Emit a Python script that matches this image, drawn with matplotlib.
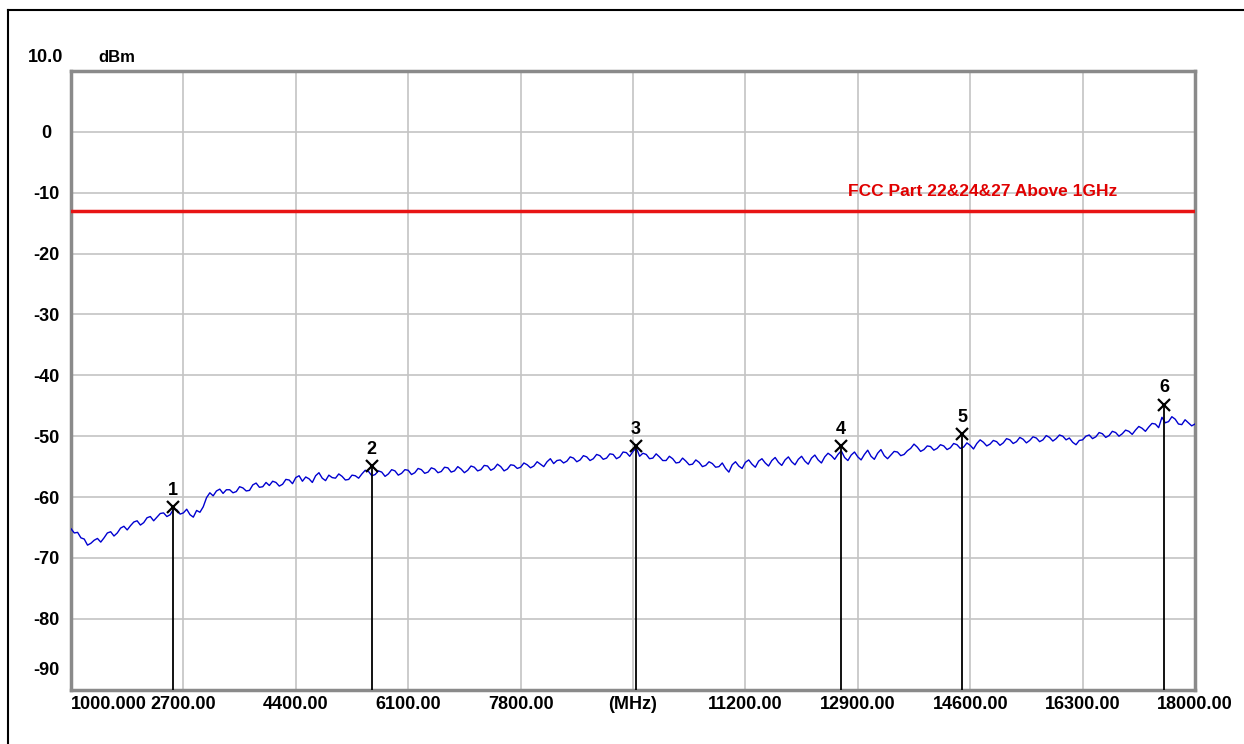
import matplotlib
matplotlib.use("Agg")
import matplotlib.pyplot as plt
from matplotlib.lines import Line2D

# spectrum trace, 1000..18000 MHz in 50 MHz steps
start_mhz = 1000
step_mhz = 50
trace_dbm = [
    -65.2, -65.9, -65.8, -66.7, -66.9, -67.9, -67.6, -67.1, -66.8, -67.4,
    -66.7, -65.9, -65.7, -66.4, -65.9, -65.1, -64.8, -65.4, -64.7, -64.1,
    -63.9, -64.6, -64.2, -63.4, -63.2, -63.9, -63.3, -62.7, -62.6, -63.2,
    -62.9, -62.0, -62.1, -62.8, -62.6, -62.0, -62.9, -63.3, -62.2, -62.5,
    -61.6, -60.1, -59.3, -59.8, -59.0, -58.7, -59.4, -58.8, -58.8, -59.3,
    -59.1, -58.3, -58.5, -59.0, -58.9, -58.0, -57.7, -58.4, -58.3, -57.6,
    -58.1, -57.4, -57.6, -58.2, -57.9, -57.1, -57.2, -57.8, -56.8, -56.5,
    -57.4, -56.7, -57.0, -57.6, -56.5, -56.0, -56.9, -57.3, -56.4, -56.8,
    -56.9, -56.2, -56.6, -57.2, -57.1, -56.4, -56.5, -56.9, -56.2, -55.6,
    -55.8, -56.5, -56.3, -55.7, -55.9, -56.6, -56.2, -55.5, -55.7, -56.4,
    -56.1, -55.5, -55.6, -56.3, -56.0, -55.3, -55.5, -56.1, -55.9, -55.2,
    -55.4, -56.0, -55.8, -55.1, -55.2, -55.9, -55.7, -55.0, -55.4, -56.0,
    -55.6, -54.9, -55.1, -55.7, -55.5, -54.8, -54.9, -55.6, -55.3, -54.6,
    -55.0, -55.7, -55.4, -54.7, -54.8, -55.3, -55.1, -54.4, -54.7, -55.2,
    -54.9, -54.2, -54.6, -55.0, -54.2, -53.7, -54.5, -54.0, -53.9, -54.4,
    -54.1, -53.4, -53.6, -54.2, -53.9, -53.2, -53.4, -54.0, -53.7, -53.0,
    -53.2, -53.8, -53.6, -52.9, -53.0, -53.7, -53.4, -52.6, -52.7, -53.3,
    -52.5, -51.9, -53.3, -52.8, -53.0, -53.7, -53.6, -52.9, -53.4, -54.0,
    -54.0, -53.3, -53.7, -54.4, -54.3, -53.6, -54.1, -54.7, -54.6, -53.9,
    -54.3, -55.0, -54.8, -54.2, -54.5, -55.1, -55.0, -54.4, -55.3, -55.9,
    -54.7, -54.2, -54.9, -55.3, -54.3, -53.9, -54.6, -55.1, -54.1, -53.7,
    -54.4, -54.9, -54.0, -53.5, -54.3, -54.8, -53.9, -53.4, -54.2, -54.7,
    -53.8, -53.3, -54.1, -54.6, -53.6, -53.1, -53.9, -54.4, -53.4, -52.8,
    -53.2, -53.8, -53.0, -52.4, -53.5, -54.0, -53.1, -52.6, -53.4, -53.9,
    -53.0, -52.3, -53.3, -53.8, -52.8, -52.2, -53.2, -53.7, -53.1, -52.5,
    -52.6, -53.2, -53.0, -52.4, -52.0, -51.3, -51.8, -52.5, -52.2, -51.6,
    -51.7, -52.3, -52.0, -51.4, -51.6, -52.2, -51.9, -51.2, -51.4, -52.0,
    -51.8, -51.1, -51.5, -52.1, -51.2, -50.6, -51.0, -51.6, -51.3, -50.7,
    -50.9, -51.5, -51.1, -50.4, -50.6, -51.2, -50.9, -50.2, -50.5, -51.1,
    -50.7, -50.1, -50.3, -50.9, -50.6, -49.9, -50.2, -50.8, -50.4, -49.8,
    -50.0, -50.6, -50.3, -51.0, -51.4, -50.7, -50.6, -50.0, -49.8, -50.4,
    -50.1, -49.4, -49.6, -50.2, -49.9, -49.2, -49.4, -50.0, -49.6, -49.0,
    -49.2, -49.7, -49.0, -48.4, -48.7, -49.2, -48.5, -47.9, -48.0, -48.6,
    -46.9, -47.8, -47.6, -46.8, -47.2, -48.0, -48.1, -47.3, -47.8, -48.3,
    -48.0,
]
trace_mhz = [start_mhz + i * step_mhz for i in range(len(trace_dbm))]

marker_ids = ["1", "2", "3", "4", "5", "6"]
marker_mhz = [2540, 5550, 9540, 12640, 14480, 17530]
marker_dbm = [-61.6, -54.9, -51.6, -51.6, -49.6, -44.8]

limit_dbm = -13
limit_label = "FCC Part 22&24&27 Above 1GHz"

x_ticks = [1000, 2700, 4400, 6100, 7800, 9500, 11200, 12900, 14600, 16300, 18000]
x_labels = ["1000.000", "2700.00", "4400.00", "6100.00", "7800.00", "(MHz)",
            "11200.00", "12900.00", "14600.00", "16300.00", "18000.00"]
y_ticks = [0, -10, -20, -30, -40, -50, -60, -70, -80]

plt.rcParams['font.family'] = ['Liberation Sans', 'DejaVu Sans']
plt.rcParams['font.weight'] = 'bold'

W, H = 1244, 744
fig = plt.figure(figsize=(W / 100, H / 100), dpi=100)
fig.patch.set_facecolor("white")

# outer frame (only top and left edges are inside the picture)
fig.add_artist(Line2D([8 / W, 1], [1 - 10 / H, 1 - 10 / H], color="black", lw=1.5))
fig.add_artist(Line2D([8 / W, 8 / W], [0, 1 - 10 / H], color="black", lw=1.5))

ax = fig.add_axes([71 / W, 1 - 690 / H, (1195 - 71) / W, (690 - 71) / H])
ax.set_xlim(1000, 18000)
ax.set_ylim(-91.7, 10)

ax.set_xticks(x_ticks)
ax.set_xticklabels(x_labels, fontsize=13, fontweight="bold")
ax.get_xticklabels()[0].set_ha("left")
ax.set_yticks(y_ticks)
ax.set_yticklabels([str(v) for v in y_ticks], fontsize=13, fontweight="bold")
ax.tick_params(axis="both", length=0)
ax.tick_params(axis="x", pad=4)
ax.tick_params(axis="y", pad=18)
for lbl in ax.get_yticklabels():
    lbl.set_ha("center")

ax.grid(True, color="#c4c4c4", lw=1.2)
ax.set_axisbelow(True)
for s in ax.spines.values():
    s.set_color("#8a8a8a")
    s.set_linewidth(2.5)

ax.text(-25 / 1124, 12.3, "10.0", transform=ax.get_yaxis_transform(),
        ha="center", va="center", fontsize=13, fontweight="bold")
ax.text(-25 / 1124, -88.5, "-90", transform=ax.get_yaxis_transform(),
        ha="center", va="center", fontsize=13, fontweight="bold")
ax.text(46 / 1124, 12.3, "dBm", transform=ax.get_yaxis_transform(),
        ha="center", va="center", fontsize=12, fontweight="bold")
for t in ax.texts:
    t.set_clip_on(False)

# limit line
ax.axhline(limit_dbm, color="#e81414", lw=2.5, zorder=3)
ax.text(12750, limit_dbm + 3.2, limit_label, color="#e00000",
        fontsize=12.5, fontweight="bold", va="center", ha="left")

# trace
ax.plot(trace_mhz, trace_dbm, color="#0000d0", lw=1.0, zorder=4)

# markers
bottom = ax.get_ylim()[0]
ax.vlines(marker_mhz, bottom, marker_dbm, color="black", lw=1.3, zorder=5)
ax.plot(marker_mhz, marker_dbm, ls="none", marker="x", ms=8, mew=1.6,
        color="black", zorder=6)
for mid, mx, my in zip(marker_ids, marker_mhz, marker_dbm):
    ax.annotate(mid, (mx, my), xytext=(0, 12), textcoords="offset points",
                ha="center", va="center", fontsize=13, fontweight="bold")

fig.savefig("out.png", dpi=100)
